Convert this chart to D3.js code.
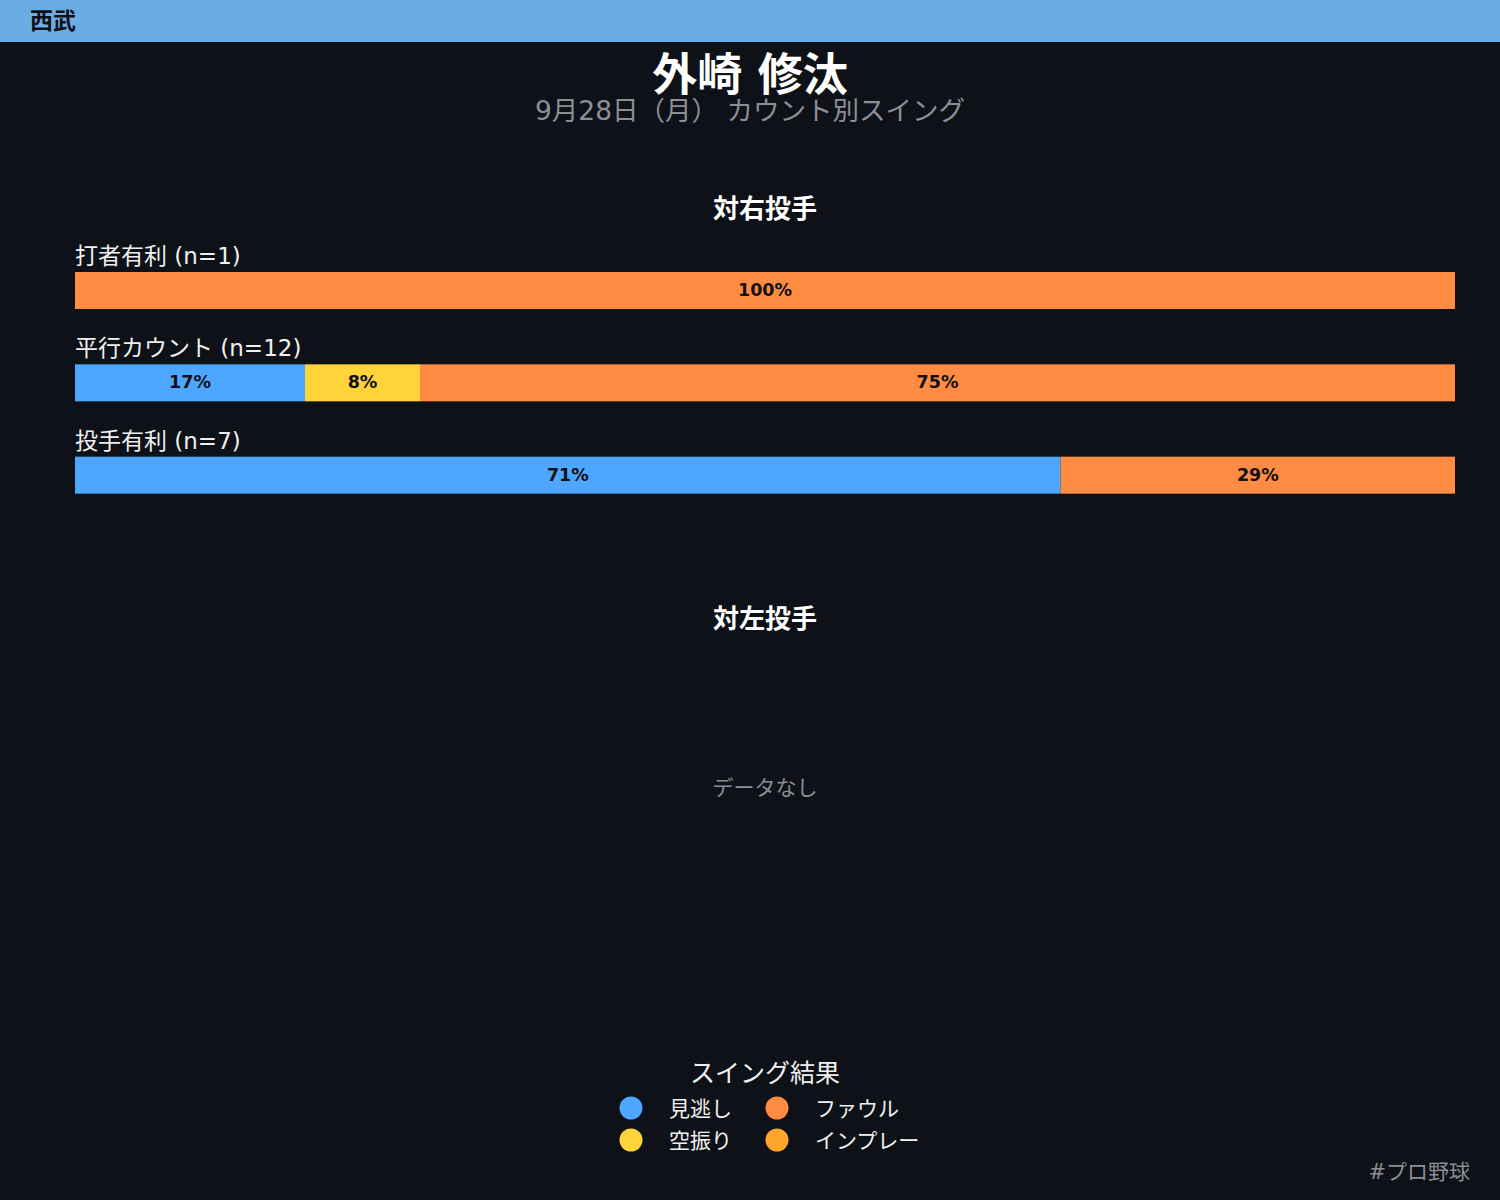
<!DOCTYPE html>
<html>
<head>
<meta charset="utf-8">
<script src="https://cdn.jsdelivr.net/npm/d3@7"></script>
<style>
  body { margin: 0; background: #0e1117; }
  text { font-family: "DejaVu Sans", "Noto Sans CJK JP", sans-serif; }
</style>
</head>
<body>
<div id="chart-area"></div>
<script>
var team = "西武",
    player = "外崎 修汰",
    subtitle = "9月28日（月） カウント別スイング",
    hashtag = "#プロ野球";

// swing result categories and colors
var results = ["見逃し", "空振り", "ファウル", "インプレー"];
var resultColors = ["#4da6ff", "#ffd43b", "#ff8c42", "#ffa62b"];

// vs right-handed pitchers: counts per count situation
var rightCounts = ["打者有利", "平行カウント", "投手有利"];
var rightMiss   = [0, 2, 5];
var rightWhiff  = [0, 1, 0];
var rightFoul   = [1, 9, 2];
var rightInplay = [0, 0, 0];

// vs left-handed pitchers: no data
var leftCounts = [];

var svgWidth = 1500, svgHeight = 1200;
var margin = { left: 75, right: 45 };
var width = svgWidth - margin.left - margin.right;

var svg = d3.select("#chart-area")
            .append("svg")
            .attr("width", svgWidth)
            .attr("height", svgHeight);

svg.append("rect")
   .attr("width", svgWidth).attr("height", svgHeight)
   .attr("fill", "#0e1117");

// header band
svg.append("rect")
   .attr("width", svgWidth).attr("height", 42)
   .attr("fill", "#6aade4");
svg.append("text")
   .attr("x", 30).attr("y", 29)
   .attr("font-size", 23).attr("font-weight", "bold")
   .attr("fill", "#0e1117")
   .text(team);

svg.append("text")
   .attr("x", 750).attr("y", 91)
   .attr("text-anchor", "middle")
   .attr("font-size", 45).attr("font-weight", "bold")
   .attr("fill", "#ffffff")
   .text(player);

svg.append("text")
   .attr("x", 750).attr("y", 120)
   .attr("text-anchor", "middle")
   .attr("font-size", 26.5)
   .attr("fill", "#8c8f96")
   .text(subtitle);

var color = d3.scaleOrdinal().domain(results).range(resultColors);
var x = d3.scaleLinear().domain([0, 1]).range([0, width]);

var rows = rightCounts.map(function(c, i) {
  var vals = [rightMiss[i], rightWhiff[i], rightFoul[i], rightInplay[i]];
  var n = d3.sum(vals);
  var x0 = 0;
  var segs = vals.map(function(v, j) {
    var s = { key: results[j], start: x0, frac: v / n };
    x0 += v / n;
    return s;
  }).filter(function(s) { return s.frac > 0; });
  return { label: c + " (n=" + n + ")", segs: segs };
});

var y = d3.scaleBand().domain(rightCounts).range([244, 521]).paddingInner(0);

// right-handed panel
svg.append("text")
   .attr("x", 765).attr("y", 218)
   .attr("text-anchor", "middle")
   .attr("font-size", 26).attr("font-weight", "bold")
   .attr("fill", "#ffffff")
   .text("対右投手");

var g = svg.append("g").attr("transform", "translate(" + margin.left + ",0)");

var rowG = g.selectAll("g.row")
            .data(rows)
            .enter().append("g")
            .attr("class", "row")
            .attr("transform", function(d, i) { return "translate(0," + y(rightCounts[i]) + ")"; });

rowG.append("text")
    .attr("x", 0).attr("y", 20)
    .attr("font-size", 23)
    .attr("fill", "#f0f0f0")
    .text(function(d) { return d.label; });

rowG.selectAll("rect")
    .data(function(d) { return d.segs; })
    .enter().append("rect")
    .attr("x", function(d) { return x(d.start); })
    .attr("y", 28)
    .attr("width", function(d) { return x(d.frac); })
    .attr("height", 37)
    .attr("fill", function(d) { return color(d.key); });

rowG.selectAll("text.pct")
    .data(function(d) { return d.segs; })
    .enter().append("text")
    .attr("class", "pct")
    .attr("x", function(d) { return x(d.start + d.frac / 2); })
    .attr("y", 52)
    .attr("text-anchor", "middle")
    .attr("font-size", 17.5).attr("font-weight", "bold")
    .attr("fill", "#111111")
    .text(function(d) { return Math.round(d.frac * 100) + "%"; });

// left-handed panel
svg.append("text")
   .attr("x", 765).attr("y", 628)
   .attr("text-anchor", "middle")
   .attr("font-size", 26).attr("font-weight", "bold")
   .attr("fill", "#ffffff")
   .text("対左投手");

if (leftCounts.length === 0) {
  svg.append("text")
     .attr("x", 765).attr("y", 795)
     .attr("text-anchor", "middle")
     .attr("font-size", 21)
     .attr("fill", "#8c8f96")
     .text("データなし");
}

// legend
svg.append("text")
   .attr("x", 765).attr("y", 1082)
   .attr("text-anchor", "middle")
   .attr("font-size", 25)
   .attr("fill", "#f0f0f0")
   .text("スイング結果");

var legend = svg.selectAll("g.legend")
                .data(results)
                .enter().append("g")
                .attr("class", "legend")
                .attr("transform", function(d, i) {
                  return "translate(" + (631 + Math.floor(i / 2) * 146) + "," + (1108 + (i % 2) * 32) + ")";
                });

legend.append("circle")
      .attr("r", 11.5)
      .attr("fill", function(d) { return color(d); });

legend.append("text")
      .attr("x", 38).attr("y", 8)
      .attr("font-size", 21)
      .attr("fill", "#f0f0f0")
      .text(function(d) { return d; });

svg.append("text")
   .attr("x", 1470).attr("y", 1179)
   .attr("text-anchor", "end")
   .attr("font-size", 21)
   .attr("fill", "#8c8f96")
   .text(hashtag);
</script>
</body>
</html>
